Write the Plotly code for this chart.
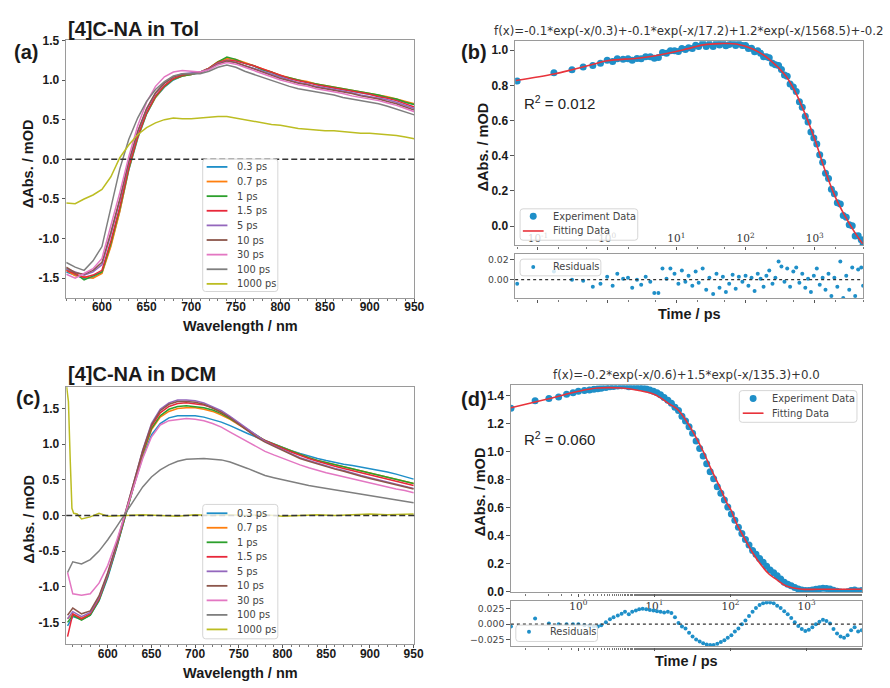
import plotly.graph_objects as go

W, H = 890, 688

# ---------------- data ----------------
labels = ["0.3 ps", "0.7 ps", "1 ps", "1.5 ps", "5 ps", "10 ps", "30 ps", "100 ps", "1000 ps"]
colors = ["#1f8fc8", "#ff7f0e", "#2ca02c", "#e8283a", "#9467bd", "#8c564b", "#e377c2", "#7f7f7f", "#bcbd22"]

# (a) [4]C-NA in Tol, wavelength 560..950 nm step 10
wl_a = list(range(560, 951, 10))
a_03 = [-1.42, -1.46, -1.50, -1.49, -1.43, -1.08, -0.65, -0.14, 0.26, 0.57, 0.78, 0.91, 1.00, 1.05, 1.07, 1.09, 1.14, 1.22, 1.27, 1.25,
        1.21, 1.18, 1.13, 1.09, 1.05, 1.02, 1.00, 0.97, 0.95, 0.92, 0.90, 0.88, 0.86, 0.84, 0.82, 0.80, 0.78, 0.75, 0.72, 0.69]
a_07 = [-1.40, -1.47, -1.48, -1.50, -1.44, -1.10, -0.66, -0.13, 0.27, 0.58, 0.78, 0.92, 1.01, 1.05, 1.07, 1.10, 1.15, 1.23, 1.27, 1.26,
        1.22, 1.18, 1.14, 1.10, 1.06, 1.03, 1.00, 0.98, 0.95, 0.93, 0.91, 0.89, 0.87, 0.85, 0.83, 0.81, 0.79, 0.76, 0.73, 0.70]
a_1 = [-1.38, -1.44, -1.52, -1.47, -1.42, -1.06, -0.62, -0.12, 0.28, 0.58, 0.79, 0.92, 1.01, 1.05, 1.07, 1.10, 1.15, 1.23, 1.29, 1.26,
       1.21, 1.18, 1.13, 1.10, 1.05, 1.03, 1.00, 0.97, 0.95, 0.93, 0.91, 0.89, 0.87, 0.85, 0.83, 0.81, 0.78, 0.76, 0.72, 0.69]
a_15 = [-1.40, -1.45, -1.49, -1.46, -1.40, -1.03, -0.60, -0.10, 0.29, 0.59, 0.80, 0.93, 1.02, 1.06, 1.08, 1.10, 1.15, 1.22, 1.25, 1.24,
        1.21, 1.18, 1.14, 1.10, 1.06, 1.02, 0.99, 0.97, 0.94, 0.92, 0.90, 0.88, 0.86, 0.84, 0.82, 0.79, 0.77, 0.74, 0.70, 0.66]
a_5 = [-1.38, -1.42, -1.46, -1.42, -1.33, -0.95, -0.52, -0.04, 0.34, 0.63, 0.83, 0.96, 1.04, 1.08, 1.09, 1.10, 1.14, 1.21, 1.24, 1.22,
       1.18, 1.15, 1.11, 1.07, 1.03, 1.00, 0.97, 0.95, 0.92, 0.90, 0.88, 0.86, 0.84, 0.81, 0.79, 0.77, 0.75, 0.72, 0.68, 0.64]
a_10 = [-1.36, -1.43, -1.45, -1.40, -1.30, -0.92, -0.50, -0.03, 0.35, 0.64, 0.84, 0.96, 1.04, 1.07, 1.08, 1.09, 1.14, 1.20, 1.24, 1.22,
        1.18, 1.14, 1.10, 1.06, 1.02, 0.99, 0.96, 0.94, 0.91, 0.89, 0.87, 0.85, 0.83, 0.80, 0.78, 0.76, 0.73, 0.70, 0.66, 0.62]
a_30 = [-1.45, -1.50, -1.44, -1.38, -1.25, -0.85, -0.42, 0.03, 0.42, 0.72, 0.92, 1.04, 1.10, 1.12, 1.11, 1.10, 1.13, 1.19, 1.22, 1.20,
        1.16, 1.12, 1.08, 1.04, 1.00, 0.97, 0.94, 0.92, 0.89, 0.87, 0.85, 0.83, 0.80, 0.78, 0.76, 0.74, 0.71, 0.68, 0.64, 0.60]
a_100 = [-1.30, -1.36, -1.40, -1.28, -1.10, -0.62, -0.12, 0.25, 0.52, 0.73, 0.88, 0.98, 1.05, 1.08, 1.08, 1.08, 1.11, 1.16, 1.19, 1.16,
         1.11, 1.07, 1.03, 0.99, 0.95, 0.92, 0.89, 0.87, 0.85, 0.83, 0.81, 0.78, 0.76, 0.74, 0.72, 0.70, 0.67, 0.63, 0.60, 0.56]
a_1000 = [-0.55, -0.56, -0.50, -0.45, -0.38, -0.22, 0.02, 0.18, 0.31, 0.40, 0.46, 0.50, 0.52, 0.51, 0.51, 0.52, 0.53, 0.54, 0.54, 0.52,
          0.50, 0.48, 0.46, 0.44, 0.43, 0.41, 0.39, 0.38, 0.37, 0.36, 0.36, 0.35, 0.34, 0.33, 0.33, 0.32, 0.31, 0.30, 0.28, 0.26]
series_a = [a_03, a_07, a_1, a_15, a_5, a_10, a_30, a_100, a_1000]

# (c) [4]C-NA in DCM
wl_c = [554] + list(range(560, 951, 10))
c_03 = [-1.55, -1.42, -1.46, -1.40, -1.20, -0.87, -0.46, -0.02, 0.42, 0.82, 1.13, 1.29, 1.37, 1.40, 1.40, 1.40, 1.38, 1.35, 1.31, 1.26,
        1.20, 1.15, 1.10, 1.05, 1.00, 0.96, 0.91, 0.87, 0.83, 0.80, 0.77, 0.74, 0.72, 0.70, 0.68, 0.66, 0.63, 0.61, 0.58, 0.55, 0.51]
c_07 = [-1.45, -1.38, -1.44, -1.38, -1.18, -0.84, -0.44, 0.00, 0.45, 0.86, 1.20, 1.38, 1.46, 1.50, 1.51, 1.51, 1.49, 1.46, 1.41, 1.35,
        1.27, 1.19, 1.12, 1.05, 1.00, 0.95, 0.90, 0.85, 0.81, 0.77, 0.74, 0.71, 0.68, 0.65, 0.62, 0.59, 0.56, 0.53, 0.51, 0.48, 0.45]
c_1 = [-1.50, -1.40, -1.47, -1.40, -1.19, -0.85, -0.45, 0.00, 0.45, 0.87, 1.22, 1.40, 1.49, 1.53, 1.54, 1.53, 1.51, 1.48, 1.43, 1.36,
       1.28, 1.20, 1.12, 1.05, 1.00, 0.95, 0.90, 0.85, 0.81, 0.77, 0.74, 0.71, 0.68, 0.65, 0.62, 0.59, 0.57, 0.54, 0.51, 0.48, 0.45]
c_15 = [-1.70, -1.38, -1.45, -1.38, -1.17, -0.83, -0.43, 0.01, 0.46, 0.89, 1.25, 1.44, 1.53, 1.57, 1.58, 1.57, 1.55, 1.51, 1.45, 1.38,
        1.29, 1.20, 1.12, 1.05, 0.99, 0.94, 0.89, 0.84, 0.80, 0.76, 0.72, 0.69, 0.66, 0.63, 0.60, 0.57, 0.54, 0.51, 0.48, 0.45, 0.42]
c_5 = [-1.45, -1.35, -1.42, -1.36, -1.15, -0.82, -0.42, 0.02, 0.48, 0.92, 1.29, 1.49, 1.58, 1.62, 1.62, 1.61, 1.58, 1.53, 1.47, 1.39,
       1.30, 1.21, 1.12, 1.04, 0.98, 0.92, 0.86, 0.81, 0.77, 0.73, 0.69, 0.66, 0.63, 0.59, 0.56, 0.53, 0.50, 0.47, 0.44, 0.41, 0.38]
c_10 = [-1.40, -1.30, -1.38, -1.34, -1.13, -0.80, -0.40, 0.03, 0.48, 0.91, 1.27, 1.47, 1.56, 1.60, 1.60, 1.59, 1.56, 1.51, 1.45, 1.37,
        1.28, 1.19, 1.10, 1.03, 0.97, 0.91, 0.85, 0.80, 0.76, 0.72, 0.68, 0.65, 0.62, 0.58, 0.55, 0.52, 0.49, 0.46, 0.43, 0.40, 0.37]
c_30 = [-0.80, -1.10, -1.12, -1.10, -0.95, -0.70, -0.36, 0.02, 0.42, 0.80, 1.10, 1.27, 1.33, 1.35, 1.36, 1.35, 1.33, 1.29, 1.24, 1.17,
        1.10, 1.03, 0.96, 0.90, 0.85, 0.80, 0.75, 0.71, 0.67, 0.63, 0.60, 0.57, 0.54, 0.51, 0.48, 0.45, 0.43, 0.40, 0.37, 0.35, 0.32]
c_100 = [-0.80, -0.65, -0.68, -0.62, -0.50, -0.34, -0.16, 0.03, 0.22, 0.40, 0.54, 0.64, 0.71, 0.76, 0.79, 0.80, 0.80, 0.79, 0.78, 0.75,
         0.71, 0.66, 0.61, 0.56, 0.53, 0.50, 0.47, 0.44, 0.42, 0.40, 0.38, 0.36, 0.34, 0.31, 0.29, 0.27, 0.25, 0.23, 0.21, 0.20, 0.18]
wl_c1000 = [553, 555, 557, 559, 561, 565, 570, 580, 590, 600, 620, 640, 660, 680, 700, 720, 740, 760, 780, 800, 820, 840, 860, 880, 900, 920, 940, 950]
c_1000 = [1.80, 1.60, 0.80, 0.10, 0.03, 0.02, -0.05, -0.02, 0.03, -0.01, 0.00, 0.01, 0.00, -0.01, 0.01, 0.00, 0.01, 0.00, 0.01, -0.01,
          0.00, 0.01, 0.00, 0.01, 0.02, 0.01, 0.02, 0.02]
series_c = [c_03, c_07, c_1, c_15, c_5, c_10, c_30, c_100]

# (b) kinetics in Tol
b_time = [0.05, 0.17, 0.31, 0.45, 0.62, 0.8, 1.0, 1.2, 1.4, 1.7,
          2.0, 2.3, 2.7, 3.1, 3.6, 4.2, 4.8, 5.5, 6.3, 7.2,
          8.2, 9.4, 10.7, 12, 13.5, 15, 17, 19, 21, 24,
          27, 30, 34, 38, 42, 47, 52, 58, 65, 72,
          80, 90, 100, 110, 122, 135, 150, 165, 182, 200,
          220, 245, 270, 300, 330, 365, 400, 440, 490, 540,
          600, 660, 730, 800, 880, 970, 1070, 1180, 1300, 1430,
          1580, 1740, 1920, 2120, 2340, 2580, 2850, 3150, 3480, 3840,
          4240, 4700, 5000]
b_data = [0.824, 0.872, 0.889, 0.904, 0.912, 0.926, 0.943, 0.936, 0.951, 0.948,
          0.951, 0.943, 0.953, 0.951, 0.963, 0.962, 0.954, 0.958, 0.987, 0.982,
          0.996, 0.996, 0.992, 1.009, 1.003, 1.013, 1.009, 1.028, 1.021, 1.040,
          1.021, 1.035, 1.021, 1.042, 1.029, 1.040, 1.025, 1.032, 1.041, 1.026,
          1.036, 1.026, 1.026, 1.010, 1.011, 0.991, 0.996, 0.982, 0.963, 0.962,
          0.957, 0.926, 0.917, 0.913, 0.890, 0.858, 0.851, 0.808, 0.791, 0.765,
          0.707, 0.676, 0.624, 0.591, 0.534, 0.500, 0.466, 0.405, 0.362, 0.300,
          0.271, 0.209, 0.184, 0.133, 0.126, 0.060, 0.050, 0.008, 0.002, -0.056,
          -0.055, -0.078, -0.106]
b_res = [-0.004, 0.008, 0.000, -0.001, -0.007, -0.004, 0.003, -0.006, 0.006, 0.001,
         0.002, -0.008, 0.000, -0.005, 0.003, -0.002, -0.013, -0.013, 0.011, 0.001,
         0.011, 0.006, -0.004, 0.009, -0.002, 0.004, -0.006, 0.008, -0.003, 0.011,
         -0.010, 0.002, -0.014, 0.006, -0.008, 0.003, -0.012, -0.004, 0.005, -0.009,
         0.003, -0.002, 0.004, -0.006, 0.002, -0.011, 0.006, 0.001, -0.007, 0.004,
         0.009, -0.004, 0.002, 0.018, 0.013, -0.002, 0.011, -0.007, 0.008, 0.012,
         -0.003, 0.006, -0.008, 0.001, -0.012, 0.004, 0.011, -0.005, 0.002, -0.010,
         0.006, -0.016, 0.002, -0.007, 0.018, -0.018, 0.004, -0.010, 0.012, -0.016,
         0.010, 0.012, -0.006]
b_fit_t = [0.048, 0.17, 0.32, 0.63, 1.0, 2.74, 4.74, 8.2, 14.2, 24.5, 42.7, 73.6, 127, 220, 380, 525, 735, 1020, 1410, 1970, 2740, 3800, 4900]
b_fit_y = [0.827, 0.864, 0.89, 0.92, 0.94, 0.954, 0.967, 0.985, 1.007, 1.03, 1.037, 1.035, 1.007, 0.948, 0.855, 0.762, 0.632, 0.483, 0.316, 0.167, 0.056, -0.037, -0.10]

# (d) kinetics in DCM
d_time = [0.13, 0.27, 0.41, 0.55, 0.7, 0.85, 1.0, 1.2, 1.4, 1.6,
          1.8, 2.0, 2.3, 2.6, 2.9, 3.3, 3.7, 4.1, 4.6, 5.1,
          5.7, 6.3, 7.0, 7.8, 8.7, 9.7, 10.8, 12, 13.4, 15,
          16.7, 18.6, 20.7, 23, 25.6, 28.5, 31.7, 35.3, 39.3, 43.7,
          48.6, 54, 60, 67, 74.6, 83, 92, 102.6, 114, 127,
          141, 157, 175, 195, 216, 241, 268, 298, 331, 369,
          410, 456, 508, 565, 628, 699, 778, 865, 962, 1070,
          1190, 1325, 1474, 1640, 1824, 2030, 2258, 2512, 2794, 3108,
          3458, 3847, 4280, 4760, 5300]
d_data = [1.309, 1.362, 1.378, 1.390, 1.409, 1.420, 1.430, 1.435, 1.440, 1.444,
          1.448, 1.451, 1.457, 1.462, 1.465, 1.468, 1.470, 1.470, 1.463, 1.464,
          1.462, 1.460, 1.455, 1.448, 1.440, 1.431, 1.419, 1.405, 1.385, 1.366,
          1.344, 1.316, 1.292, 1.251, 1.218, 1.176, 1.130, 1.075, 1.022, 0.967,
          0.912, 0.856, 0.806, 0.748, 0.701, 0.654, 0.603, 0.554, 0.508, 0.459,
          0.414, 0.371, 0.331, 0.293, 0.266, 0.236, 0.209, 0.180, 0.153, 0.134,
          0.113, 0.089, 0.066, 0.052, 0.040, 0.028, 0.017, 0.010, 0.006, 0.007,
          0.011, 0.016, 0.020, 0.023, 0.021, 0.017, 0.008, 0.001, -0.004, -0.006,
          -0.002, 0.006, 0.011, 0.004, 0.006]
d_res = [-0.004, 0.009, 0.001, 0.000, 0.000, 0.000, 0.000, -0.002, -0.003, -0.004,
         -0.004, -0.002, 0.003, 0.008, 0.011, 0.014, 0.017, 0.020, 0.016, 0.020,
         0.022, 0.024, 0.025, 0.024, 0.023, 0.022, 0.021, 0.020, 0.019, 0.020,
         0.018, 0.011, 0.002, -0.004, -0.007, -0.014, -0.020, -0.025, -0.028, -0.031,
         -0.033, -0.034, -0.034, -0.032, -0.029, -0.026, -0.022, -0.018, -0.012, -0.007,
         0.000, 0.006, 0.013, 0.020, 0.026, 0.031, 0.034, 0.035, 0.035, 0.034,
         0.030, 0.026, 0.021, 0.016, 0.010, 0.003, -0.003, -0.008, -0.011, -0.009,
         -0.005, 0.000, 0.004, 0.007, 0.005, 0.001, -0.008, -0.015, -0.020, -0.022,
         -0.018, -0.010, -0.005, -0.012, -0.010]
d_fit_t = [0.13, 0.27, 0.41, 0.67, 1.0, 1.8, 3.7, 6.0, 10, 16, 20, 27, 34, 44, 56, 73, 89, 100, 120, 141, 197, 250, 325, 400, 530, 870, 1440, 5300]
d_fit_y = [1.313, 1.353, 1.377, 1.407, 1.43, 1.453, 1.453, 1.437, 1.407, 1.337, 1.302, 1.208, 1.115, 0.998, 0.87, 0.741, 0.635, 0.589, 0.484, 0.414, 0.273, 0.192, 0.121, 0.086, 0.04, 0.016, 0.016, 0.016]

log_tickvals = [0.1, 1, 10, 100, 1000]
log_ticktext = ["10<sup>-1</sup>", "10<sup>0</sup>", "10<sup>1</sup>", "10<sup>2</sup>", "10<sup>3</sup>"]

title_tol = "[4]C-NA in Tol"
title_dcm = "[4]C-NA in DCM"
formula_b = "f(x)=-0.1*exp(-x/0.3)+-0.1*exp(-x/17.2)+1.2*exp(-x/1568.5)+-0.2"
formula_d = "f(x)=-0.2*exp(-x/0.6)+1.5*exp(-x/135.3)+0.0"

# ---------------- styling ----------------
EXP_BLUE = "#1f8fc8"
FIT_RED = "#e8333b"
SANS = "Liberation Sans"
DJV = "DejaVu Sans"


def fx(p):
    return p / W


def fy(p):
    return 1 - p / H


fig = go.Figure()

# (a)
for vals, lab, col in zip(series_a, labels, colors):
    fig.add_trace(go.Scatter(x=wl_a, y=vals, mode="lines", name=lab, line=dict(color=col, width=1.5),
                             xaxis="x", yaxis="y", showlegend=False))
# (c)
for vals, lab, col in zip(series_c, labels[:8], colors[:8]):
    fig.add_trace(go.Scatter(x=wl_c, y=vals, mode="lines", name=lab, line=dict(color=col, width=1.5),
                             xaxis="x4", yaxis="y4", showlegend=False))
fig.add_trace(go.Scatter(x=wl_c1000, y=c_1000, mode="lines", name=labels[8], line=dict(color=colors[8], width=1.5),
                         xaxis="x4", yaxis="y4", showlegend=False))

# (b)
fig.add_trace(go.Scatter(x=b_time, y=b_data, mode="markers", name="Experiment Data",
                         marker=dict(color=EXP_BLUE, size=7), xaxis="x2", yaxis="y2", showlegend=False))
fig.add_trace(go.Scatter(x=b_fit_t, y=b_fit_y, mode="lines", name="Fitting Data", line=dict(color=FIT_RED, width=1.6, shape="spline"),
                         xaxis="x2", yaxis="y2", showlegend=False))
fig.add_trace(go.Scatter(x=b_time, y=b_res, mode="markers", name="Residuals",
                         marker=dict(color=EXP_BLUE, size=4), xaxis="x3", yaxis="y3", showlegend=False))
# (d)
fig.add_trace(go.Scatter(x=d_time, y=d_data, mode="markers", name="Experiment Data",
                         marker=dict(color=EXP_BLUE, size=7), xaxis="x5", yaxis="y5", showlegend=False))
fig.add_trace(go.Scatter(x=d_fit_t, y=d_fit_y, mode="lines", name="Fitting Data", line=dict(color=FIT_RED, width=1.6, shape="spline"),
                         xaxis="x5", yaxis="y5", showlegend=False))
fig.add_trace(go.Scatter(x=d_time, y=d_res, mode="markers", name="Residuals",
                         marker=dict(color=EXP_BLUE, size=4), xaxis="x6", yaxis="y6", showlegend=False))

frame = dict(showline=True, linecolor="#9a9a9a", linewidth=1.3, mirror=True, showgrid=False, zeroline=False,
             ticks="outside", ticklen=3.5, tickcolor="#555", tickwidth=1)
bold_tick = dict(family=SANS, size=12, color="#1a1a1a", weight="bold")
res_tick = dict(family=DJV, size=9.3, color="#444")
log_tick = dict(family="DejaVu Serif", size=10.5, color="#333")

xa = (67, 419)
xb = (521, 873)
xd = (516.7, 871.7)

lin_y_ticks = [-1.5, -1.0, -0.5, 0.0, 0.5, 1.0, 1.5]
lin_y_text = ["-1.5", "-1.0", "-0.5", "0.0", "0.5", "1.0", "1.5"]

layout = dict(
    width=W, height=H, margin=dict(l=0, r=0, t=0, b=0),
    paper_bgcolor="white", plot_bgcolor="rgba(0,0,0,0)", showlegend=False,
    xaxis=dict(frame, domain=[fx(xa[0]), fx(xa[1])], anchor="y", range=[560, 950], dtick=50, tick0=600,
               tickfont=bold_tick, ticklabelstandoff=-6,
               minor=dict(ticks="outside", ticklen=2, tickcolor="#777", dtick=10, tick0=560)),
    yaxis=dict(frame, domain=[fy(296.7), fy(34)], anchor="x", range=[-1.75, 1.5],
               tickvals=lin_y_ticks, ticktext=lin_y_text, tickfont=bold_tick),
    xaxis4=dict(frame, domain=[fx(xa[0]), fx(xa[1])], anchor="y4", range=[552.5, 950.8], dtick=50, tick0=600,
                tickfont=bold_tick, ticklabelstandoff=-5,
                minor=dict(ticks="outside", ticklen=2, tickcolor="#777", dtick=10, tick0=560)),
    yaxis4=dict(frame, domain=[fy(649), fy(387)], anchor="x4", range=[-1.8, 1.807],
                tickvals=lin_y_ticks, ticktext=lin_y_text, tickfont=bold_tick),
    xaxis2=dict(frame, type="log", domain=[fx(xb[0]), fx(xb[1])], anchor="y2", range=[-1.33, 3.70],
                tickvals=log_tickvals, ticktext=log_ticktext, ticklabelposition="inside", tickfont=log_tick,
                minor=dict(ticks="outside", ticklen=2, tickcolor="#777")),
    yaxis2=dict(frame, domain=[fy(243), fy(35)], anchor="x2", range=[-0.11, 1.05],
                tickvals=[0, 0.2, 0.4, 0.6, 0.8, 1.0], ticktext=["0.0", "0.2", "0.4", "0.6", "0.8", "1.0"], tickfont=bold_tick),
    xaxis3=dict(frame, type="log", domain=[fx(xb[0]), fx(xb[1])], anchor="y3", range=[-1.33, 3.70],
                tickvals=log_tickvals, showticklabels=False, minor=dict(ticks="outside", ticklen=2, tickcolor="#777")),
    yaxis3=dict(frame, domain=[fy(297), fy(252)], anchor="x3", range=[-0.0184, 0.0251],
                tickvals=[0.0, 0.02], ticktext=["0.00", "0.02"], tickfont=res_tick),
    xaxis5=dict(frame, type="log", domain=[fx(xd[0]), fx(xd[1])], anchor="y5", range=[-0.887, 3.727],
                tickvals=log_tickvals, ticktext=log_ticktext, tickfont=log_tick,
                minor=dict(ticks="outside", ticklen=2, tickcolor="#777")),
    yaxis5=dict(frame, domain=[fy(596.7), fy(385.7)], anchor="x5", range=[-0.007, 1.472],
                tickvals=[0, 0.2, 0.4, 0.6, 0.8, 1.0, 1.2, 1.4],
                ticktext=["0.0", "0.2", "0.4", "0.6", "0.8", "1.0", "1.2", "1.4"], tickfont=bold_tick),
    xaxis6=dict(frame, type="log", domain=[fx(xd[0]), fx(xd[1])], anchor="y6", range=[-0.887, 3.727],
                tickvals=log_tickvals, showticklabels=False, minor=dict(ticks="outside", ticklen=2, tickcolor="#777")),
    yaxis6=dict(frame, domain=[fy(651.7), fy(605.7)], anchor="x6", range=[-0.0361, 0.0371],
                tickvals=[-0.025, 0.0, 0.025], ticktext=["\u22120.025", "0.000", "0.025"], tickfont=res_tick),
)
fig.update_layout(**layout)

# reference lines
for xr, yr in [("x domain", "y"), ("x4 domain", "y4")]:
    fig.add_shape(type="line", xref=xr, yref=yr, x0=0, x1=1, y0=0, y1=0,
                  line=dict(color="#333", width=1.5, dash="6px,3px"))
for xr, yr in [("x3 domain", "y3"), ("x6 domain", "y6")]:
    fig.add_shape(type="line", xref=xr, yref=yr, x0=0, x1=1, y0=0, y1=0,
                  line=dict(color="#333", width=1.2, dash="dot"))


def rounded_box(x0, y0, x1, y1, r=3):
    rx, ry = r / W, r / H
    X0, X1 = fx(x0), fx(x1)
    Y0, Y1 = fy(y1), fy(y0)  # paper y: bottom, top
    path = (f"M {X0+rx},{Y0} L {X1-rx},{Y0} Q {X1},{Y0} {X1},{Y0+ry} L {X1},{Y1-ry} Q {X1},{Y1} {X1-rx},{Y1} "
            f"L {X0+rx},{Y1} Q {X0},{Y1} {X0},{Y1-ry} L {X0},{Y0+ry} Q {X0},{Y0} {X0+rx},{Y0} Z")
    fig.add_shape(type="path", xref="paper", yref="paper", path=path,
                  fillcolor="rgba(255,255,255,0.8)", line=dict(color="#d6d6d6", width=1))


def dot(x, y, d, color):
    fig.add_shape(type="circle", xref="paper", yref="paper", x0=fx(x - d / 2), x1=fx(x + d / 2),
                  y0=fy(y + d / 2), y1=fy(y - d / 2), fillcolor=color, line=dict(width=0))


def text(x, y, s, size, family=SANS, color="#1a1a1a", bold=False, xanchor="left", angle=0):
    fig.add_annotation(x=fx(x), y=fy(y), xref="paper", yref="paper", text=s, showarrow=False,
                       xanchor=xanchor, yanchor="middle", textangle=angle,
                       font=dict(family=family, size=size, color=color, weight="bold" if bold else "normal"))


LEG_FONT = 9.8
LEG_COLOR = "#444"


def spectral_legend(top, bottom, first, step):
    rounded_box(205, top, 281, bottom)
    for i, (lab, col) in enumerate(zip(labels, colors)):
        y = first + i * step
        fig.add_shape(type="line", xref="paper", yref="paper", x0=fx(209), x1=fx(230), y0=fy(y), y1=fy(y),
                      line=dict(color=col, width=1.8))
        text(237.5, y, lab, LEG_FONT, family=DJV, color=LEG_COLOR)


spectral_legend(155, 290, 163, 14.9)
spectral_legend(507, 644, 516, 14.8)


def fit_legend(x0, y0, x1, y1, mx, tx, ye, yf):
    rounded_box(x0, y0, x1, y1)
    dot(mx, ye, 7, EXP_BLUE)
    fig.add_shape(type="line", xref="paper", yref="paper", x0=fx(mx - 10.5), x1=fx(mx + 10.5), y0=fy(yf), y1=fy(yf),
                  line=dict(color=FIT_RED, width=1.6))
    text(tx, ye, "Experiment Data", LEG_FONT, family=DJV, color=LEG_COLOR)
    text(tx, yf, "Fitting Data", LEG_FONT, family=DJV, color=LEG_COLOR)


def res_legend(x0, y0, x1, y1, mx, tx, ym):
    rounded_box(x0, y0, x1, y1)
    dot(mx, ym, 4, EXP_BLUE)
    text(tx, ym, "Residuals", LEG_FONT, family=DJV, color=LEG_COLOR)


fit_legend(526, 205.7, 645, 237.7, 539.3, 557.3, 213.3, 228.3)
res_legend(526, 257, 607.7, 274, 539.3, 557.3, 265)
fit_legend(747.7, 391, 866.7, 423.3, 761.7, 779, 399, 414)
res_legend(521.7, 630, 604.3, 646.7, 535, 554, 636.7)

# titles and labels
text(67, 22.5, title_tol, 20, bold=True)
text(67, 374, title_dcm, 20, bold=True)
text(12, 46, "(a)", 20, bold=True)
text(464, 46, "(b)", 20, bold=True)
text(14, 399, "(c)", 20, bold=True)
text(464, 400, "(d)", 20, bold=True)
text(697, 24, formula_b, 11.8, family=DJV, color="#333", xanchor="center")
text(694.2, 375, formula_d, 11.8, family=DJV, color="#333", xanchor="center")
text(528, 97.3, "R<sup>2</sup> = 0.012", 15, color="#222")
text(528, 440, "R<sup>2</sup> = 0.060", 15, color="#222")

ylab = "\u0394Abs. / mOD"
text(29, 159.5, ylab, 14.5, bold=True, xanchor="center", angle=-90)
text(29, 521.7, ylab, 14.5, bold=True, xanchor="center", angle=-90)
text(488, 142.5, ylab, 14.5, bold=True, xanchor="center", angle=-90)
text(485, 494, ylab, 14.5, bold=True, xanchor="center", angle=-90)
text(243, 325, "Wavelength / nm", 14.5, bold=True, xanchor="center")
text(243, 679, "Wavelength / nm", 14.5, bold=True, xanchor="center")
text(697, 313, "Time / ps", 14.5, bold=True, xanchor="center")
text(694, 666.5, "Time / ps", 14.5, bold=True, xanchor="center")

fig.write_html("out.html", config={"displayModeBar": False},
               post_script="document.body.style.margin='0';document.body.style.overflow='hidden';")
